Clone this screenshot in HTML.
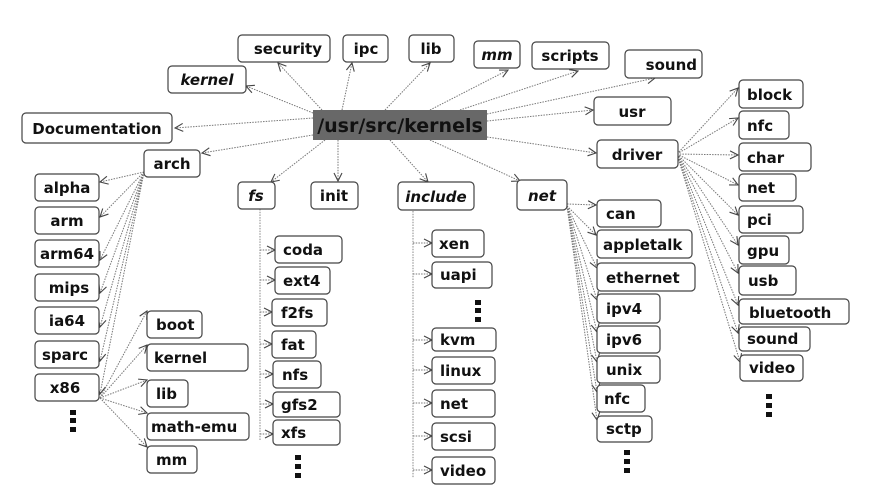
<!DOCTYPE html>
<html><head><meta charset="utf-8"><style>
html,body{margin:0;padding:0;background:#fff;}
svg{display:block;}
text{font-family:"DejaVu Sans","Liberation Sans",sans-serif;font-weight:bold;font-size:15px;fill:#111;}
.b{fill:#fff;stroke:#444;stroke-width:1.2;}
.l{stroke:#777;stroke-width:1;stroke-dasharray:1.5 1.2;fill:none;marker-end:url(#a);}
.i{font-style:italic;}
</style></head><body>
<svg width="873" height="502" viewBox="0 0 873 502" xmlns="http://www.w3.org/2000/svg">
<defs><marker id="a" markerWidth="10" markerHeight="10" refX="9" refY="5" orient="auto" markerUnits="userSpaceOnUse"><path d="M1,1 L9,5 L1,9" fill="none" stroke="#444" stroke-width="1.1"/></marker></defs>

<!-- connectors from center -->
<path class="l" d="M322,110 L278,63"/>
<path class="l" d="M342,110 L352,63"/>
<path class="l" d="M385,110 L430,63"/>
<path class="l" d="M430,110 L508,70"/>
<path class="l" d="M460,110 L578,71"/>
<path class="l" d="M487,114 L655,78"/>
<path class="l" d="M313,113 L246,86"/>
<path class="l" d="M313,118 L175,128"/>
<path class="l" d="M313,135 L202,153"/>
<path class="l" d="M325,140 L271,182"/>
<path class="l" d="M338,140 L338,181"/>
<path class="l" d="M390,140 L428,182"/>
<path class="l" d="M430,140 L520,181"/>
<path class="l" d="M487,121 L593,110"/>
<path class="l" d="M487,137 L596,153"/>

<!-- arch children -->
<path class="l" d="M144,172 L100,182"/>
<path class="l" d="M144,172 L100,217"/>
<path class="l" d="M144,172 L100,260"/>
<path class="l" d="M144,172 L100,293"/>
<path class="l" d="M144,172 L100,327"/>
<path class="l" d="M144,172 L100,361"/>
<path class="l" d="M144,172 L100,394"/>
<!-- x86 children -->
<path class="l" d="M100,398 L147,311"/>
<path class="l" d="M100,398 L147,345"/>
<path class="l" d="M100,398 L147,380"/>
<path class="l" d="M100,398 L147,413"/>
<path class="l" d="M100,398 L147,447"/>

<!-- fs -->
<path d="M260,209 L260,440" stroke="#888" stroke-width="1" stroke-dasharray="1.5 1.2"/>
<path class="l" d="M260,250 L275,250"/>
<path class="l" d="M260,280 L275,280"/>
<path class="l" d="M260,312 L272,312"/>
<path class="l" d="M260,344 L272,344"/>
<path class="l" d="M260,374 L273,374"/>
<path class="l" d="M260,404 L273,404"/>
<path class="l" d="M260,434 L273,434"/>

<!-- include -->
<path d="M413,211 L413,478" stroke="#888" stroke-width="1" stroke-dasharray="1.5 1.2"/>
<path class="l" d="M413,243 L432,243"/>
<path class="l" d="M413,274 L432,274"/>
<path class="l" d="M413,340 L432,340"/>
<path class="l" d="M413,370 L432,370"/>
<path class="l" d="M413,403 L432,403"/>
<path class="l" d="M413,436 L432,436"/>
<path class="l" d="M413,470 L432,470"/>

<!-- net children -->
<path class="l" d="M567,204 L596,205"/>
<path class="l" d="M567,206 L596,235"/>
<path class="l" d="M567,206 L597,268"/>
<path class="l" d="M567,206 L597,300"/>
<path class="l" d="M567,206 L597,332"/>
<path class="l" d="M567,206 L597,362"/>
<path class="l" d="M567,206 L597,392"/>
<path class="l" d="M567,206 L597,420"/>

<!-- driver children -->
<path class="l" d="M677,154 L738,88"/>
<path class="l" d="M677,154 L738,118"/>
<path class="l" d="M677,154 L738,155"/>
<path class="l" d="M677,154 L738,185"/>
<path class="l" d="M677,154 L738,215"/>
<path class="l" d="M677,154 L738,245"/>
<path class="l" d="M677,154 L738,273"/>
<path class="l" d="M677,154 L738,305"/>
<path class="l" d="M677,154 L738,333"/>
<path class="l" d="M677,154 L740,362"/>

<!-- center -->
<rect x="313" y="110" width="174" height="30" fill="#686868"/>
<text x="400" y="132" text-anchor="middle" style="font-size:19px">/usr/src/kernels</text>

<!-- top boxes -->
<rect class="b" x="238" y="35" width="92" height="27" rx="4"/><text x="322" y="54" text-anchor="end">security</text>
<rect class="b" x="343" y="35" width="45" height="27" rx="4"/><text x="366" y="54" text-anchor="middle">ipc</text>
<rect class="b" x="409" y="35" width="45" height="27" rx="4"/><text x="431" y="54" text-anchor="middle">lib</text>
<rect class="b" x="474" y="41" width="46" height="27" rx="4"/><text class="i" x="497" y="60" text-anchor="middle">mm</text>
<rect class="b" x="532" y="42" width="77" height="27" rx="4"/><text x="570" y="61" text-anchor="middle">scripts</text>
<rect class="b" x="625" y="50" width="77" height="28" rx="4"/><text x="697" y="70" text-anchor="end">sound</text>
<rect class="b" x="168" y="66" width="78" height="27" rx="4"/><text class="i" x="207" y="85" text-anchor="middle">kernel</text>
<rect class="b" x="22" y="113" width="150" height="30" rx="4"/><text x="97" y="134" text-anchor="middle">Documentation</text>
<rect class="b" x="594" y="97" width="77" height="28" rx="4"/><text x="632" y="117" text-anchor="middle">usr</text>
<rect class="b" x="597" y="140" width="81" height="28" rx="4"/><text x="637" y="160" text-anchor="middle">driver</text>
<rect class="b" x="144" y="150" width="56" height="27" rx="4"/><text x="172" y="169" text-anchor="middle">arch</text>
<rect class="b" x="238" y="182" width="37" height="27" rx="4"/><text class="i" x="256" y="201" text-anchor="middle">fs</text>
<rect class="b" x="311" y="182" width="47" height="27" rx="4"/><text x="334" y="201" text-anchor="middle">init</text>
<rect class="b" x="398" y="182" width="76" height="28" rx="4"/><text class="i" x="436" y="202" text-anchor="middle">include</text>
<rect class="b" x="517" y="180" width="50" height="30" rx="4"/><text class="i" x="542" y="201" text-anchor="middle">net</text>

<!-- arch column -->
<rect class="b" x="35" y="174" width="64" height="27" rx="4"/><text x="67" y="193" text-anchor="middle">alpha</text>
<rect class="b" x="35" y="207" width="64" height="27" rx="4"/><text x="67" y="226" text-anchor="middle">arm</text>
<rect class="b" x="35" y="240" width="64" height="27" rx="4"/><text x="67" y="259" text-anchor="middle">arm64</text>
<rect class="b" x="35" y="274" width="64" height="27" rx="4"/><text x="69" y="293" text-anchor="middle">mips</text>
<rect class="b" x="35" y="307" width="64" height="27" rx="4"/><text x="67" y="326" text-anchor="middle">ia64</text>
<rect class="b" x="35" y="341" width="64" height="27" rx="4"/><text x="65" y="360" text-anchor="middle">sparc</text>
<rect class="b" x="35" y="374" width="64" height="27" rx="4"/><text x="65" y="393" text-anchor="middle">x86</text>
<g fill="#111"><rect x="70" y="410" width="6" height="5"/><rect x="70" y="418" width="6" height="5"/><rect x="70" y="427" width="6" height="5"/></g>

<!-- x86 children -->
<rect class="b" x="147" y="311" width="55" height="27" rx="4"/><text x="156" y="330">boot</text>
<rect class="b" x="147" y="344" width="101" height="27" rx="4"/><text x="154" y="363">kernel</text>
<rect class="b" x="147" y="380" width="41" height="27" rx="4"/><text x="156" y="399">lib</text>
<rect class="b" x="147" y="413" width="102" height="27" rx="4"/><text x="151" y="432">math-emu</text>
<rect class="b" x="147" y="446" width="50" height="27" rx="4"/><text x="156" y="465">mm</text>

<!-- fs column -->
<rect class="b" x="275" y="236" width="67" height="27" rx="4"/><text x="283" y="255">coda</text>
<rect class="b" x="275" y="267" width="55" height="27" rx="4"/><text x="283" y="286">ext4</text>
<rect class="b" x="272" y="299" width="55" height="27" rx="4"/><text x="281" y="318">f2fs</text>
<rect class="b" x="272" y="331" width="44" height="27" rx="4"/><text x="281" y="350">fat</text>
<rect class="b" x="273" y="361" width="48" height="27" rx="4"/><text x="282" y="380">nfs</text>
<rect class="b" x="273" y="392" width="67" height="25" rx="4"/><text x="281" y="410">gfs2</text>
<rect class="b" x="273" y="420" width="67" height="25" rx="4"/><text x="281" y="438">xfs</text>
<g fill="#111"><rect x="295" y="455" width="6" height="5"/><rect x="295" y="464" width="6" height="5"/><rect x="295" y="473" width="6" height="5"/></g>

<!-- include column -->
<rect class="b" x="432" y="230" width="52" height="27" rx="4"/><text x="439" y="249">xen</text>
<rect class="b" x="432" y="262" width="60" height="26" rx="4"/><text x="440" y="280">uapi</text>
<g fill="#111"><rect x="475" y="300" width="6" height="5"/><rect x="475" y="308" width="6" height="5"/><rect x="475" y="317" width="6" height="5"/></g>
<rect class="b" x="432" y="328" width="64" height="23" rx="4"/><text x="440" y="345">kvm</text>
<rect class="b" x="432" y="357" width="63" height="27" rx="4"/><text x="440" y="376">linux</text>
<rect class="b" x="432" y="390" width="63" height="27" rx="4"/><text x="440" y="409">net</text>
<rect class="b" x="432" y="423" width="63" height="27" rx="4"/><text x="440" y="442">scsi</text>
<rect class="b" x="432" y="457" width="63" height="27" rx="4"/><text x="440" y="476">video</text>

<!-- net column -->
<rect class="b" x="597" y="200" width="64" height="27" rx="4"/><text x="606" y="219">can</text>
<rect class="b" x="597" y="230" width="95" height="28" rx="4"/><text x="603" y="250">appletalk</text>
<rect class="b" x="597" y="263" width="98" height="28" rx="4"/><text x="606" y="283">ethernet</text>
<rect class="b" x="597" y="294" width="63" height="29" rx="4"/><text x="606" y="314">ipv4</text>
<rect class="b" x="597" y="326" width="63" height="27" rx="4"/><text x="606" y="345">ipv6</text>
<rect class="b" x="597" y="356" width="63" height="27" rx="4"/><text x="606" y="375">unix</text>
<rect class="b" x="597" y="385" width="48" height="27" rx="4"/><text x="604" y="404">nfc</text>
<rect class="b" x="597" y="416" width="55" height="26" rx="4"/><text x="606" y="434">sctp</text>
<g fill="#111"><rect x="624" y="450" width="6" height="5"/><rect x="624" y="459" width="6" height="5"/><rect x="624" y="468" width="6" height="5"/></g>

<!-- driver column -->
<rect class="b" x="739" y="80" width="64" height="28" rx="4"/><text x="747" y="100">block</text>
<rect class="b" x="739" y="111" width="50" height="28" rx="4"/><text x="747" y="131">nfc</text>
<rect class="b" x="739" y="143" width="72" height="28" rx="4"/><text x="747" y="163">char</text>
<rect class="b" x="739" y="174" width="57" height="27" rx="4"/><text x="747" y="193">net</text>
<rect class="b" x="739" y="206" width="64" height="27" rx="4"/><text x="747" y="225">pci</text>
<rect class="b" x="739" y="236" width="50" height="28" rx="4"/><text x="747" y="256">gpu</text>
<rect class="b" x="739" y="266" width="57" height="29" rx="4"/><text x="748" y="286">usb</text>
<rect class="b" x="739" y="299" width="110" height="25" rx="4"/><text x="749" y="318">bluetooth</text>
<rect class="b" x="739" y="327" width="71" height="24" rx="4"/><text x="747" y="344">sound</text>
<rect class="b" x="740" y="355" width="63" height="26" rx="4"/><text x="749" y="373">video</text>
<g fill="#111"><rect x="766" y="394" width="6" height="5"/><rect x="766" y="403" width="6" height="5"/><rect x="766" y="412" width="6" height="5"/></g>
</svg>
</body></html>
